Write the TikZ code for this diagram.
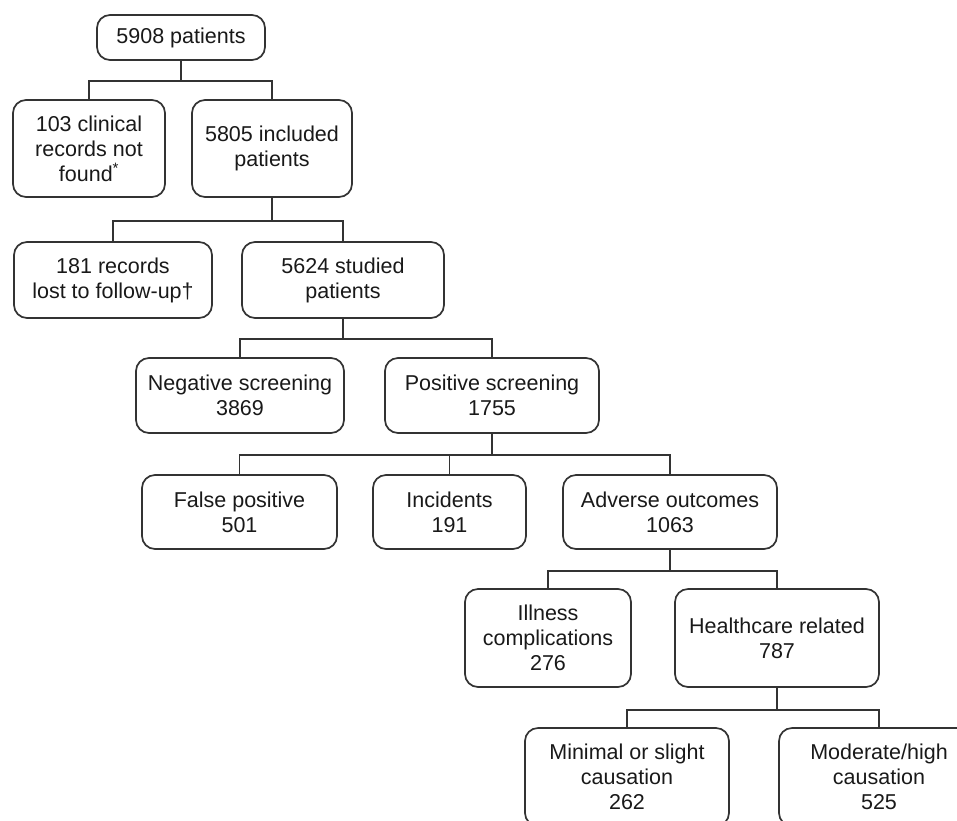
\documentclass[tikz,border=0pt]{standalone}
\usepackage{fontspec}
\setmainfont{Liberation Sans}
\begin{document}
\begin{tikzpicture}[x=1pt,y=-1pt,
  fbox/.style={draw=black!80, line width=1.7pt, rounded corners=13pt, align=center,
    inner sep=0pt, font=\fontsize{21.5}{25}\selectfont, text=black!90},
  link/.style={draw=black!80, line width=1.7pt}]
\useasboundingbox (0,0) rectangle (957,820);
\clip (0,0) rectangle (957,820);
% row 1
\node[fbox, minimum width=168, minimum height=45] (n1) at (181,37.5) {5908 patients};
% row 2
\node[fbox, minimum width=152, minimum height=97] (n2) at (89,148.5) {103 clinical\\records not\\found\textsuperscript{*}};
\node[fbox, minimum width=160, minimum height=97] (n3) at (272,148.5) {5805 included\\patients};
% row 3
\node[fbox, minimum width=198, minimum height=76] (n4) at (113,280) {181 records\\lost to follow-up†};
\node[fbox, minimum width=202, minimum height=76] (n5) at (343,280) {5624 studied\\patients};
% row 4
\node[fbox, minimum width=208, minimum height=75] (n6) at (240,395.5) {Negative screening\\3869};
\node[fbox, minimum width=214, minimum height=75] (n7) at (492,395.5) {Positive screening\\1755};
% row 5
\node[fbox, minimum width=195, minimum height=74] (n8) at (239.5,512) {False positive\\501};
\node[fbox, minimum width=153, minimum height=74] (n9) at (449.5,512) {Incidents\\191};
\node[fbox, minimum width=214, minimum height=74] (n10) at (670,512) {Adverse outcomes\\1063};
% row 6
\node[fbox, minimum width=166, minimum height=98] (n11) at (548,638) {Illness\\complications\\276};
\node[fbox, minimum width=204, minimum height=98] (n12) at (777,638) {Healthcare related\\787};
% row 7
\node[fbox, minimum width=204, minimum height=98] (n13) at (627,777) {Minimal or slight\\causation\\262};
\node[fbox, minimum width=200, minimum height=98] (n14) at (879,777) {Moderate/high\\causation\\525};
% connectors
\draw[link] (n1.south) -- ++(0,20) coordinate (j1);
\draw[link] (n2.north) |- (j1) -| (n3.north);
\draw[link] (n3.south) -- ++(0,23) coordinate (j2);
\draw[link] (n4.north) |- (j2) -| (n5.north);
\draw[link] (n5.south) -- ++(0,20) coordinate (j3);
\draw[link] (n6.north) |- (j3) -| (n7.north);
\draw[link] (n7.south) -- ++(0,21) coordinate (j4);
\draw[link] (n8.north) |- (j4) -| (n10.north);
\draw[link] (n9.north) -- (n9.north |- j4);
\draw[link] (n10.south) -- ++(0,21) coordinate (j5);
\draw[link] (n11.north) |- (j5) -| (n12.north);
\draw[link] (n12.south) -- ++(0,22) coordinate (j6);
\draw[link] (n13.north) |- (j6) -| (n14.north);
\end{tikzpicture}
\end{document}
